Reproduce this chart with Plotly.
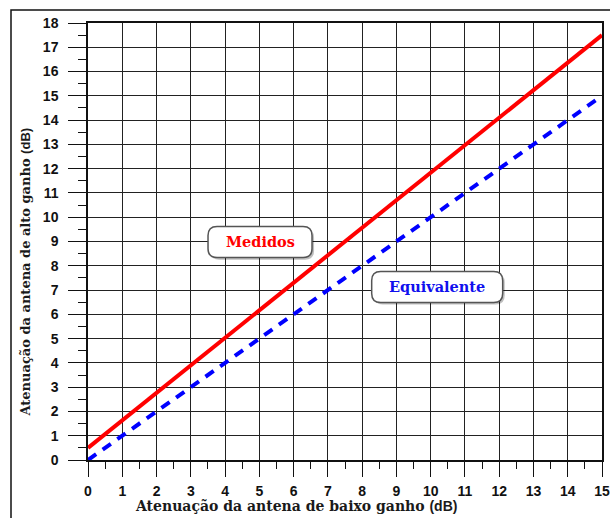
import plotly.graph_objects as go

# data
x_vals = [0, 15]
medidos = [0.5, 17.5]
equivalente = [0, 15]
x_ticks = list(range(0, 16))
y_ticks = list(range(0, 19))
labels = ["Medidos", "Equivalente"]
label_pos = [(5.02, 8.98), (10.19, 7.13)]
label_colors = ["#ff0000", "#1010ee"]
label_box_w = [104, 131]
x_title = "Atenuação da antena de baixo ganho"
y_title = "Atenuação da antena de alto ganho"
unit = "(dB)"

TICK_FONT = dict(family="Liberation Sans", size=14, color="#111111", weight="bold")

fig = go.Figure()
fig.add_trace(go.Scatter(x=x_vals, y=medidos, mode="lines",
                         line=dict(color="#ff0000", width=4), name="Medidos"))
fig.add_trace(go.Scatter(x=x_vals, y=equivalente, mode="lines",
                         line=dict(color="#0000ff", width=4, dash="10px,8px"),
                         name="Equivalente"))


def rounded(w, h, r):
    a, b = w / 2, h / 2
    return (f"M {-a+r},{-b} L {a-r},{-b} Q {a},{-b} {a},{-b+r} L {a},{b-r} "
            f"Q {a},{b} {a-r},{b} L {-a+r},{b} Q {-a},{b} {-a},{b-r} "
            f"L {-a},{-b+r} Q {-a},{-b} {-a+r},{-b} Z")


shapes = []
annotations = []
for (lx, ly), txt, col, w in zip(label_pos, labels, label_colors, label_box_w):
    h = 31
    shapes.append(dict(type="path", xref="x", yref="y", xsizemode="pixel", ysizemode="pixel",
                       xanchor=lx + 0.06, yanchor=ly - 0.09, path=rounded(w, h, 9),
                       fillcolor="rgba(0,0,0,0.25)", line=dict(width=0), layer="above"))
    shapes.append(dict(type="path", xref="x", yref="y", xsizemode="pixel", ysizemode="pixel",
                       xanchor=lx, yanchor=ly, path=rounded(w, h, 9),
                       fillcolor="white", line=dict(color="#555555", width=1.5), layer="above"))
    annotations.append(dict(x=lx, y=ly, xref="x", yref="y", text=f"<b>{txt}</b>",
                            showarrow=False,
                            font=dict(family="DejaVu Serif", size=14.5, color=col)))


def title_text(t):
    return (f"<b>{t} </b><span style=\"font-family:'Liberation Sans'\"><b>{unit}</b></span>")


annotations.append(dict(x=0.4037, y=-0.105, xref="paper", yref="paper",
                        xanchor="center", yanchor="middle", showarrow=False,
                        text=title_text(x_title),
                        font=dict(family="DejaVu Serif", size=14, color="#1a1a1a")))
annotations.append(dict(x=-0.1206, y=0.429, xref="paper", yref="paper",
                        xanchor="center", yanchor="middle", showarrow=False, textangle=-90,
                        text=title_text(y_title),
                        font=dict(family="DejaVu Serif", size=13, color="#1a1a1a")))

# outer frame
shapes.append(dict(type="rect", xref="paper", yref="paper",
                   x0=-0.1498, x1=1.03, y0=-0.2, y1=1.0297,
                   line=dict(color="#111111", width=1.5), fillcolor="rgba(0,0,0,0)", layer="below"))

fig.update_layout(
    width=610, height=518,
    margin=dict(l=88, r=8, t=23, b=58, autoexpand=False),
    paper_bgcolor="white", plot_bgcolor="white",
    showlegend=False,
    shapes=shapes,
    annotations=annotations,
)
fig.update_xaxes(
    range=[0, 15], tickvals=x_ticks, ticktext=[str(v) for v in x_ticks],
    showgrid=True, gridcolor="#222222", gridwidth=1,
    showline=True, linecolor="#111111", linewidth=1.5, mirror=True,
    ticks="outside", ticklen=15, tickwidth=1.2, tickcolor="#111111",
    minor=dict(dtick=0.5, ticks="outside", ticklen=7, tickwidth=1.2, tickcolor="#111111", showgrid=False),
    tickfont=TICK_FONT, ticklabelstandoff=2, zeroline=False, automargin=False,
)
fig.update_yaxes(
    range=[0, 18], tickvals=y_ticks, ticktext=[str(v) for v in y_ticks],
    showgrid=True, gridcolor="#222222", gridwidth=1,
    showline=True, linecolor="#111111", linewidth=1.5, mirror=True,
    ticks="outside", ticklen=18, tickwidth=1.2, tickcolor="#111111",
    minor=dict(dtick=0.5, ticks="outside", ticklen=8, tickwidth=1.2, tickcolor="#111111", showgrid=False),
    tickfont=TICK_FONT, ticklabelstandoff=7, zeroline=False, automargin=False,
)

fig.write_html("out.html")
